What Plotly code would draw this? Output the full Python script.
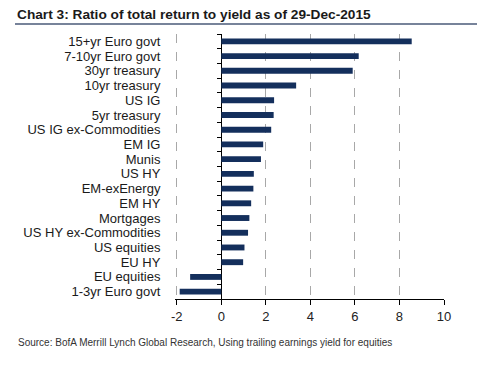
import plotly.graph_objects as go

categories = ["15+yr Euro govt", "7-10yr Euro govt", "30yr treasury", "10yr treasury",
              "US IG", "5yr treasury", "US IG ex-Commodities", "EM IG", "Munis", "US HY",
              "EM-exEnergy", "EM HY", "Mortgages", "US HY ex-Commodities", "US equities",
              "EU HY", "EU equities", "1-3yr Euro govt"]
values = [8.55, 6.17, 5.9, 3.36, 2.37, 2.35, 2.24, 1.88, 1.78, 1.46,
          1.44, 1.34, 1.26, 1.2, 1.04, 0.98, -1.4, -1.87]
x_ticks = [-2, 0, 2, 4, 6, 8, 10]

title_text = "Chart 3: Ratio of total return to yield as of 29-Dec-2015"
source_text = "Source: BofA Merrill Lynch Global Research, Using trailing earnings yield for equities"

# page body has an 8px margin, so the figure is drawn 8px in from the window corner
OFF = 8
W, H = 488 - 2 * OFF, 373 - 2 * OFF
PL, PR, PT, PB = 175, 444, 34, 299          # plot area in window pixels
L, R, T, B = PL - OFF, W - (PR - OFF), PT - OFF, H - (PB - OFF)
XMIN, XMAX = -2.08, 10


def px_x(p):
    return (p - PL) / (PR - PL)


def px_y(p):
    return (PB - p) / (PB - PT)


font = "Liberation Sans, Arial, sans-serif"

fig = go.Figure()
fig.add_trace(go.Bar(x=values, y=categories, orientation="h",
                     marker=dict(color="#142f5c", line=dict(width=0)),
                     showlegend=False, hoverinfo="skip"))
fig.add_trace(go.Scatter(x=[0] * len(categories), y=categories, yaxis="y2",
                         mode="markers", marker=dict(opacity=0), showlegend=False,
                         hoverinfo="skip"))

yaxis_common = dict(type="category", categoryorder="array", categoryarray=categories,
                    range=[len(categories) - 0.5, -0.5], tickmode="array",
                    tickvals=categories)

fig.update_layout(
    width=W, height=H,
    margin=dict(l=L, r=R, t=T, b=B, pad=0),
    paper_bgcolor="white", plot_bgcolor="white",
    bargap=0.6,
    xaxis=dict(range=[XMIN, XMAX], tickvals=x_ticks, ticktext=[str(v) for v in x_ticks],
               showgrid=True, gridcolor="#a8a8a8", griddash="dash", gridwidth=1,
               zeroline=True, zerolinecolor="#000000", zerolinewidth=1,
               showline=True, linecolor="#000000", linewidth=1,
               ticks="outside", ticklen=5, tickcolor="#000000",
               tickfont=dict(family=font, size=13, color="#222222"),
               fixedrange=True),
    yaxis=dict(**yaxis_common, showgrid=False, zeroline=False, showline=False,
               ticks="outside", ticklen=11, tickcolor="rgba(0,0,0,0)",
               tickfont=dict(family=font, size=13, color="#1a1a1a")),
    yaxis2=dict(**yaxis_common, overlaying="y", anchor="free",
                position=(0 - XMIN) / (XMAX - XMIN),
                side="left", showgrid=False, zeroline=False, showline=False,
                showticklabels=False, ticks="outside", ticklen=4, tickcolor="#000000",
                tickwidth=1, tickson="boundaries"),
    annotations=[
        dict(text="<b>" + title_text + "</b>", xref="paper", yref="paper",
             x=px_x(15), y=px_y(14.5), xanchor="left", yanchor="middle", showarrow=False,
             font=dict(family=font, size=13.7, color="#1a1a1a")),
        dict(text=source_text, xref="paper", yref="paper",
             x=px_x(16), y=px_y(342), xanchor="left", yanchor="middle", showarrow=False,
             font=dict(family=font, size=10, color="#333333")),
    ],
    shapes=[dict(type="line", xref="paper", yref="paper",
                 x0=px_x(15), x1=px_x(477), y0=px_y(24), y1=px_y(24),
                 line=dict(color="#4a5a78", width=1.5))],
)

fig.write_html("out.html")
